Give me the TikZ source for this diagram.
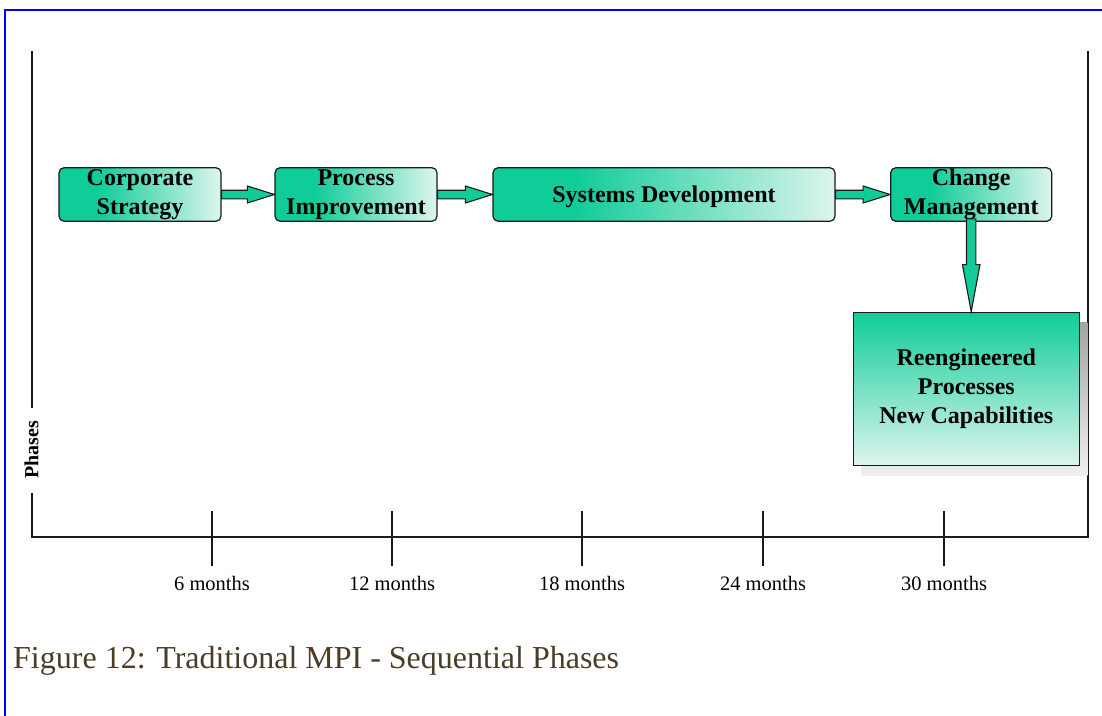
\documentclass[tikz,border=0pt]{standalone}
\usepackage{fontspec}
\setmainfont{Liberation Serif}
\usetikzlibrary{calc}

\definecolor{tealA}{HTML}{10CC98}
\definecolor{tealL}{HTML}{DDF5EE}
\definecolor{shadowTop}{HTML}{A4A4A4}
\definecolor{shadowBot}{HTML}{F0F0F0}
\definecolor{capbrown}{HTML}{4B3C27}
\definecolor{frameblue}{HTML}{0000FF}
\definecolor{edge}{HTML}{1A1A1A}

% solid teal on the left third, fading to pale green on the right
\pgfdeclarehorizontalshading{phasefade}{100bp}{color(0bp)=(tealA); color(25bp)=(tealA); color(37bp)=(tealA); color(75bp)=(tealL); color(100bp)=(tealL)}

\tikzset{
  phase/.style={draw=edge, line width=1.2pt, rounded corners=5pt, shade, shading=phasefade,
    inner sep=0pt, align=center, font=\bfseries\fontsize{24}{29}\selectfont,
    minimum height=53.5pt, execute at begin node=\rule{0pt}{20.5pt}},
  result/.style={draw=edge, line width=1.2pt, top color=tealA, bottom color=tealL,
    inner sep=0pt, align=center, font=\bfseries\fontsize{24}{29}\selectfont,
    minimum width=226pt, minimum height=153pt, execute at begin node=\rule{0pt}{19pt}},
  resultshadow/.style={top color=shadowTop, bottom color=shadowBot, inner sep=0pt,
    minimum width=226pt, minimum height=153pt},
  barrow/.style={fill=tealA, draw=edge, line width=1.1pt, line join=miter},
  axisline/.style={draw=edge, line width=1.3pt},
  ticklabel/.style={font=\fontsize{20.5}{24}\selectfont, inner sep=0pt},
}

\newcommand{\hblock}[2]{%
  \draw[barrow] let \p1=(#1.east), \p2=(#2.west) in
    (\x1,\y1+4.3pt) -- (\x2-27pt,\y1+4.3pt) -- (\x2-27pt,\y1+8.5pt) -- (\x2,\y1)
    -- (\x2-27pt,\y1-8.5pt) -- (\x2-27pt,\y1-4.3pt) -- (\x1,\y1-4.3pt) -- cycle;}

\begin{document}
\begin{tikzpicture}[x=1pt,y=-1pt]
\useasboundingbox (0,0) rectangle (1102,715);

% page frame
\draw[frameblue, line width=2.2pt] (5,716) -- (5,10) -- (1103,10);

% axes
\coordinate (ytop) at (32,51);
\coordinate (ygapTop) at (32,408);
\coordinate (ygapBot) at (32,493);
\coordinate (origin) at (32,537);
\coordinate (xend) at (1088,537);
\coordinate (rtop) at (1088,51);
\draw[axisline] (ytop) -- (ygapTop);
\draw[axisline] (ygapBot) -- (origin) -- (xend) -- (rtop);
\node[rotate=90, font=\bfseries\fontsize{20}{24}\selectfont, inner sep=0pt] (ylab) at (31.5,450) {Phases};

% time ticks
\foreach \tx/\tl [count=\i] in {212/6, 392/12, 582/18, 763/24, 944/30} {
  \coordinate (tt\i) at (\tx,511);
  \coordinate (tb\i) at (\tx,566);
  \draw[axisline] (tt\i) -- (tb\i);
  \node[ticklabel] (tl\i) at (\tx,583) {\tl{} months};
}

% phases
\node[phase, minimum width=162pt] (cs) at (140,194.5) {Corporate\\Strategy};
\node[phase, minimum width=162pt] (pi) at (356,194.5) {Process\\Improvement};
\node[phase, minimum width=342pt] (sd) at (664,194.5) {Systems Development};
\node[phase, minimum width=161pt] (cm) at (971.2,194.5) {Change\\Management};

% outcome box with its drop shadow
\node[resultshadow] (reshadow) at (974.3,398.7) {};
\node[result] (re) at (966.3,388.7) {Reengineered\\Processes\\New Capabilities};

% block arrows
\hblock{cs}{pi}
\hblock{pi}{sd}
\hblock{sd}{cm}
\draw[barrow] let \p1=(cm.south), \p2=(re.north) in
  (\x1-4.7pt,\y1+3pt) -- (\x1-4.7pt,\y2+47pt) -- (\x1-8.8pt,\y2+47pt) -- (\x1,\y2)
  -- (\x1+8.8pt,\y2+47pt) -- (\x1+4.7pt,\y2+47pt) -- (\x1+4.7pt,\y1+3pt) -- cycle;

% caption
\node[anchor=base west, inner sep=0pt, text=capbrown, font=\fontsize{32}{38}\selectfont] (caption) at (13,668) {Figure 12: Traditional MPI - Sequential Phases};
\end{tikzpicture}
\end{document}
